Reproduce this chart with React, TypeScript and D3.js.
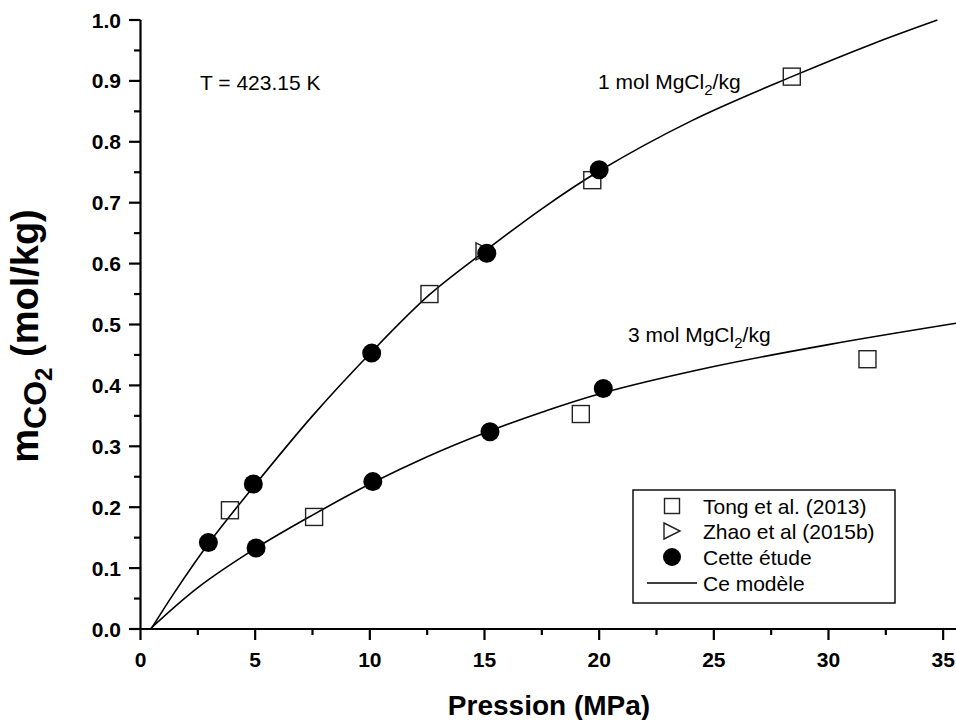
import React from "react";
import * as d3 from "d3";

// Data
const tongX = [3.9, 12.6, 19.7, 28.4, 7.57, 19.2, 31.7];
const tongY = [0.195, 0.55, 0.737, 0.907, 0.184, 0.353, 0.443];
const zhaoX = [15.0];
const zhaoY = [0.62];
const etudeX = [2.96, 4.92, 10.08, 15.1, 20.0, 5.04, 10.13, 15.24, 20.18];
const etudeY = [0.142, 0.238, 0.453, 0.617, 0.754, 0.133, 0.242, 0.324, 0.395];
const model1X = [0.46, 1.5, 3, 5, 7.5, 10, 12.6, 15, 17.5, 20, 24, 28.4, 32, 34.75];
const model1Y = [0, 0.061, 0.142, 0.237, 0.35, 0.452, 0.549, 0.62, 0.69, 0.752, 0.834, 0.907, 0.962, 1.0];
const model3X = [0.42, 2.5, 5, 7.5, 10, 12.5, 15, 17.5, 20, 25, 30, 35.56];
const model3Y = [0, 0.068, 0.132, 0.187, 0.238, 0.283, 0.322, 0.356, 0.386, 0.431, 0.467, 0.502];
const xTicks = [0, 5, 10, 15, 20, 25, 30, 35];
const yTicks = [0, 0.1, 0.2, 0.3, 0.4, 0.5, 0.6, 0.7, 0.8, 0.9, 1.0];
const legendLabels = ["Tong et al. (2013)", "Zhao et al (2015b)", "Cette étude", "Ce modèle"];

const FONT = "'Liberation Sans', Arial, sans-serif";

export default function App() {
  const W = 956, H = 720;
  const x = d3.scaleLinear().domain([0, 35.56]).range([140.5, 956]);
  const y = d3.scaleLinear().domain([0, 1]).range([629, 20]);
  const line = d3
    .line<[number, number]>()
    .x((d) => x(d[0]))
    .y((d) => y(d[1]))
    .curve(d3.curveCatmullRom.alpha(0.5));
  const m1 = model1X.map((v, i) => [v, model1Y[i]] as [number, number]);
  const m3 = model3X.map((v, i) => [v, model3Y[i]] as [number, number]);
  const xMinor = d3.range(0, 35.6, 2.5).filter((v) => !xTicks.includes(v));
  const yMinor = d3.range(0.05, 1.0, 0.1);

  const sq = (cx: number, cy: number, s: number, k: string) => (
    <rect key={k} x={cx - s / 2} y={cy - s / 2} width={s} height={s} fill="none" stroke="#222" strokeWidth={1.4} />
  );
  const tri = (cx: number, cy: number, s: number, k: string) => (
    <path key={k} d={`M${cx - s / 2},${cy - s / 2}L${cx + s / 2},${cy}L${cx - s / 2},${cy + s / 2}Z`} fill="none" stroke="#222" strokeWidth={1.4} />
  );

  const legX = 633, legY = 490, legW = 262, legH = 113;
  const rowY = [506, 531, 557, 583];
  const symX = 672;

  return (
    <svg width={W} height={H} style={{ position: "absolute", left: 0, top: 0, background: "#fff" }} fontFamily={FONT}>
      <rect width={W} height={H} fill="#fff" />
      {/* model lines */}
      <path d={line(m1) || ""} fill="none" stroke="#000" strokeWidth={1.6} />
      <path d={line(m3) || ""} fill="none" stroke="#000" strokeWidth={1.6} />
      {/* markers */}
      {zhaoX.map((v, i) => tri(x(v), y(zhaoY[i]), 17, "z" + i))}
      {tongX.map((v, i) => sq(x(v), y(tongY[i]), 17, "t" + i))}
      {etudeX.map((v, i) => (
        <circle key={"e" + i} cx={x(v)} cy={y(etudeY[i])} r={9.5} fill="#000" />
      ))}
      {/* axes */}
      <line x1={140.5} x2={956} y1={629} y2={629} stroke="#000" strokeWidth={2.2} />
      <line x1={140.5} x2={140.5} y1={20} y2={629} stroke="#000" strokeWidth={2.2} />
      {xTicks.map((t) => (
        <g key={"xt" + t}>
          <line x1={x(t)} x2={x(t)} y1={629} y2={640} stroke="#000" strokeWidth={2.2} />
          <text x={x(t)} y={667} textAnchor="middle" fontSize={21} fontWeight="bold">{t}</text>
        </g>
      ))}
      {xMinor.map((t) => (
        <line key={"xm" + t} x1={x(t)} x2={x(t)} y1={629} y2={635} stroke="#000" strokeWidth={2.2} />
      ))}
      {yTicks.map((t) => (
        <g key={"yt" + t}>
          <line x1={129} x2={140.5} y1={y(t)} y2={y(t)} stroke="#000" strokeWidth={2.2} />
          <text x={121} y={y(t) + 7.5} textAnchor="end" fontSize={21} fontWeight="bold">{t.toFixed(1)}</text>
        </g>
      ))}
      {yMinor.map((t) => (
        <line key={"ym" + t} x1={134} x2={140.5} y1={y(t)} y2={y(t)} stroke="#000" strokeWidth={2.2} />
      ))}
      {/* axis titles */}
      <text x={549} y={715} textAnchor="middle" fontSize={28} fontWeight="bold">Pression (MPa)</text>
      <text transform="translate(38,336) rotate(-90)" textAnchor="middle" fontSize={38} fontWeight="bold">
        m<tspan fontSize={32} dy={8}>CO</tspan><tspan fontSize={24} dy={6}>2</tspan><tspan dy={-14} fontSize={38}> (mol/kg)</tspan>
      </text>
      {/* annotations */}
      <text x={200} y={90} fontSize={21}>T = 423.15 K</text>
      <text x={598} y={89} fontSize={21}>
        1 mol MgCl<tspan fontSize={15} dy={6}>2</tspan><tspan dy={-6}>/kg</tspan>
      </text>
      <text x={628} y={342} fontSize={21}>
        3 mol MgCl<tspan fontSize={15} dy={6}>2</tspan><tspan dy={-6}>/kg</tspan>
      </text>
      {/* legend */}
      <rect x={legX} y={legY} width={legW} height={legH} fill="#fff" stroke="#000" strokeWidth={1.4} />
      {sq(symX, rowY[0], 15, "ls")}
      {tri(symX, rowY[1], 16, "lt")}
      <circle cx={symX} cy={rowY[2]} r={9} fill="#000" />
      <line x1={647} x2={697} y1={rowY[3]} y2={rowY[3]} stroke="#000" strokeWidth={1.6} />
      {legendLabels.map((l, i) => (
        <text key={l} x={703} y={rowY[i] + 7.5} fontSize={21}>{l}</text>
      ))}
    </svg>
  );
}
